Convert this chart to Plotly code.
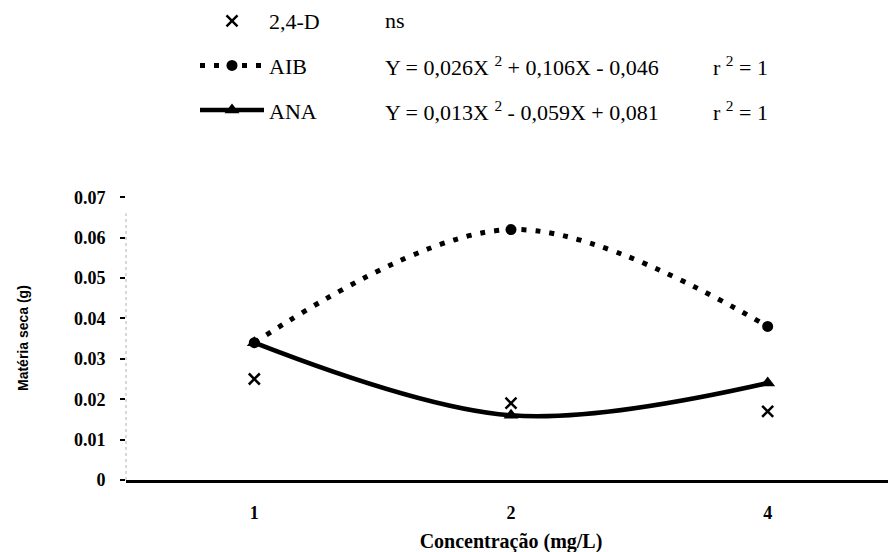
import plotly.graph_objects as go

# ---- data ----
concentrations = ["1", "2", "4"]
d24_values = [0.025, 0.019, 0.017]
aib_values = [0.034, 0.062, 0.038]
ana_values = [0.034, 0.016, 0.024]
series_names = ["2,4-D", "AIB", "ANA"]
equations = ["ns",
             "Y = 0,026X <sup>2</sup> + 0,106X - 0,046",
             "Y = 0,013X <sup>2</sup> - 0,059X + 0,081"]
r2_labels = ["", "r <sup>2</sup> = 1", "r <sup>2</sup> = 1"]
y_tick_vals = [0, 0.01, 0.02, 0.03, 0.04, 0.05, 0.06, 0.07]
y_tick_text = ["0", "0.01", "0.02", "0.03", "0.04", "0.05", "0.06", "0.07"]
x_title = "Concentração (mg/L)"
y_title = "Matéria seca (g)"

# ---- layout geometry (page body adds an 8px offset) ----
OFF = 8
W, H = 896, 552
L, R, T, B = 126 - OFF, OFF, 177 - OFF, H - (480 - OFF)
PW, PH = W - L - R, H - T - B
Y_MAX = 0.075


def px_to_paper_x(px):
    return (px - OFF - L) / PW


def px_to_paper_y(py):
    return (H - B - (py - OFF)) / PH


SERIF = "Liberation Serif"
TXT = 22

fig = go.Figure()
fig.add_trace(go.Scatter(
    x=concentrations, y=d24_values, name=series_names[0], mode="markers",
    legendgroup="a",
    marker=dict(symbol="x-thin", size=11, color="black",
                line=dict(color="black", width=2.5)),
))
fig.add_trace(go.Scatter(
    x=concentrations, y=aib_values, name=series_names[1], mode="lines+markers",
    legendgroup="b",
    line=dict(color="black", width=5, dash="5px,9px", shape="spline"),
    marker=dict(symbol="circle", size=11, color="black"),
))
fig.add_trace(go.Scatter(
    x=concentrations, y=ana_values, name=series_names[2], mode="lines+markers",
    legendgroup="c",
    line=dict(color="black", width=4.5, shape="spline"),
    marker=dict(symbol="triangle-up", size=13, color="black"),
))

row_y = [20, 66, 111]
annotations = []
for i in range(3):
    annotations.append(dict(
        x=px_to_paper_x(383), y=px_to_paper_y(row_y[i]), xref="paper", yref="paper",
        text=equations[i], showarrow=False, xanchor="left", yanchor="middle",
        font=dict(family=SERIF, size=TXT, color="black")))
    if r2_labels[i]:
        annotations.append(dict(
            x=px_to_paper_x(711), y=px_to_paper_y(row_y[i]), xref="paper", yref="paper",
            text=r2_labels[i], showarrow=False, xanchor="left", yanchor="middle",
            font=dict(family=SERIF, size=TXT, color="black")))
annotations.append(dict(
    x=px_to_paper_x(23), y=px_to_paper_y(338), xref="paper", yref="paper",
    text=y_title, showarrow=False, textangle=-90, xanchor="center", yanchor="middle",
    font=dict(family="Liberation Sans", size=14, color="black", weight="bold")))

fig.update_layout(
    width=W, height=H,
    margin=dict(l=L, r=R, t=T, b=B, autoexpand=False),
    paper_bgcolor="white", plot_bgcolor="white",
    showlegend=True,
    legend=dict(
        xref="paper", yref="paper",
        x=px_to_paper_x(195), y=px_to_paper_y(0), xanchor="left", yanchor="top",
        font=dict(family=SERIF, size=TXT, color="black"),
        tracegroupgap=13, itemwidth=64, bgcolor="rgba(0,0,0,0)",
        traceorder="grouped",
    ),
    annotations=annotations,
    shapes=[dict(type="line", xref="paper", yref="y", x0=0, x1=0, y0=0, y1=0.066,
                 line=dict(color="#b0b0b0", width=1, dash="dot"), layer="below")],
    xaxis=dict(
        type="category", range=[-0.5, 2.5],
        showline=True, linecolor="black", linewidth=3,
        showgrid=False, zeroline=False, ticks="",
        tickfont=dict(family=SERIF, size=18, color="black", weight="bold"),
        ticklabelstandoff=14,
        title=dict(text=x_title, standoff=13,
                   font=dict(family=SERIF, size=20, color="black", weight="bold")),
    ),
    yaxis=dict(
        range=[0, Y_MAX], showline=False, showgrid=False, zeroline=False,
        tickvals=y_tick_vals, ticktext=y_tick_text,
        ticks="outside", ticklen=5, tickwidth=2, tickcolor="black",
        ticklabelstandoff=11,
        tickfont=dict(family=SERIF, size=18, color="black", weight="bold"),
    ),
)

fig.write_html("out.html")
